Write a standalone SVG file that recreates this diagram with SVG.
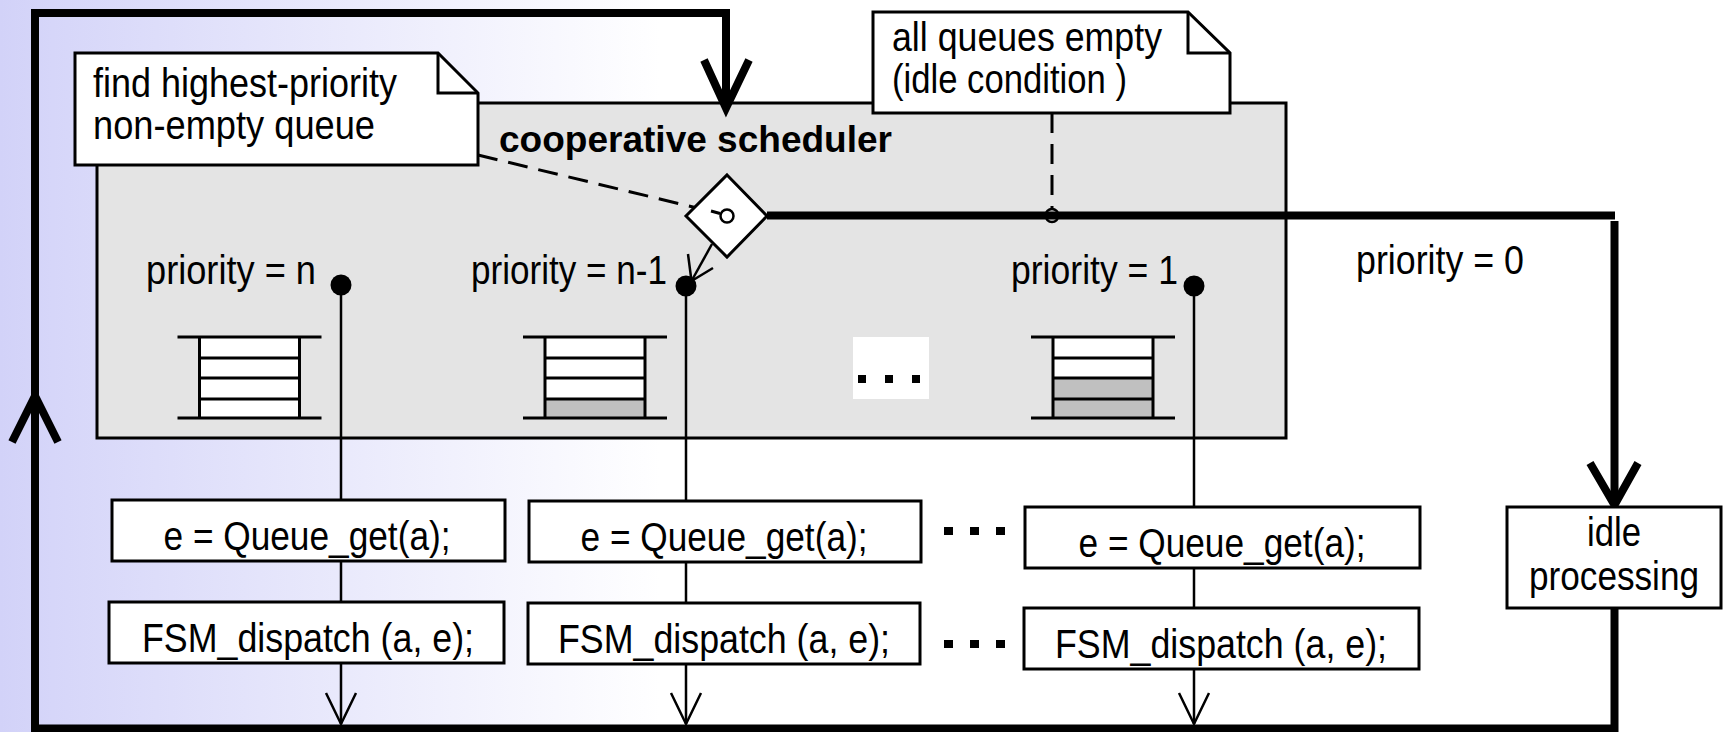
<svg xmlns="http://www.w3.org/2000/svg" width="1727" height="732" viewBox="0 0 1727 732">
  <defs>
    <linearGradient id="bg" gradientUnits="userSpaceOnUse" x1="0" y1="0" x2="660" y2="0">
      <stop offset="0" stop-color="#d2d2f8"/>
      <stop offset="0.08" stop-color="#d6d6f9"/>
      <stop offset="1" stop-color="#ffffff"/>
    </linearGradient>
    <!-- queue frame: rails, walls and slot dividers (centred on x = 0) -->
    <g id="qframe" fill="none" stroke="#000" stroke-width="3">
      <line x1="-72" y1="337" x2="72" y2="337"/>
      <line x1="-72" y1="418" x2="72" y2="418"/>
      <line x1="-50" y1="337" x2="-50" y2="418"/>
      <line x1="50" y1="337" x2="50" y2="418"/>
      <line x1="-50" y1="358" x2="50" y2="358"/>
      <line x1="-50" y1="378" x2="50" y2="378"/>
      <line x1="-50" y1="399" x2="50" y2="399"/>
    </g>
  </defs>
  <style>
    text { font-family: "Liberation Sans", Arial, Helvetica, sans-serif; font-size: 40px; fill: #000; }
    .title { font-weight: bold; font-size: 36px; }
    .mid { text-anchor: middle; }
    .box { fill: #fff; stroke: #000; stroke-width: 3; }
    .note { fill: #fff; stroke: #000; stroke-width: 3; stroke-linejoin: miter; }
    .fold { fill: none; stroke: #000; stroke-width: 3; }
    .thin { fill: none; stroke: #000; stroke-width: 2.5; }
    .thick { fill: none; stroke: #000; stroke-width: 8; }
    .dash { fill: none; stroke: #000; stroke-width: 3; stroke-dasharray: 20 11; }
    .slot { fill: #fff; }
    .full { fill: #c0c0c0; }
  </style>

  <!-- backdrop -->
  <rect x="0" y="0" width="1727" height="732" fill="url(#bg)"/>

  <!-- scheduler container -->
  <g id="scheduler">
    <rect x="97" y="103" width="1189" height="335" fill="#e4e4e4" stroke="#000" stroke-width="3"/>
    <text class="title" x="499" y="152" textLength="393" lengthAdjust="spacingAndGlyphs">cooperative scheduler</text>
  </g>

  <!-- connectors -->
  <g id="connectors">
    <!-- main loop back to the scheduler -->
    <polyline class="thick" stroke-width="7.5" points="1618,728.5 35,728.5 35,13 726,13 726,108"/>
    <polyline class="thick" stroke-width="7.5" points="12,442 35,396 58,442"/>
    <polyline class="thick" points="704,60 726,108 749,60"/>
    <!-- idle branch -->
    <line class="thick" stroke-width="9" x1="767" y1="215.5" x2="1615" y2="215.5"/>
    <line class="thick" stroke-width="9" x1="1614.5" y1="221" x2="1614.5" y2="505"/>
    <polyline class="thick" points="1590,463 1614.5,505 1638,463"/>
    <line class="thick" stroke-width="9" x1="1614.5" y1="608" x2="1614.5" y2="732"/>
    <!-- note anchors -->
    <line class="dash" x1="478" y1="155" x2="697" y2="208"/>
    <line class="dash" x1="1052" y1="113" x2="1052" y2="209"/>
    <circle cx="1052" cy="215.5" r="6.5" fill="none" stroke="#000" stroke-width="2.5"/>
    <!-- diamond to selected queue -->
    <line class="thin" x1="712" y1="244" x2="691.5" y2="281"/>
    <polyline class="thin" points="688,254 691.5,281 713,268"/>
    <!-- per-priority dispatch paths -->
    <line class="thin" x1="341" y1="285" x2="341" y2="724"/>
    <polyline class="thin" points="326,693 341,724 356,693"/>
    <line class="thin" x1="686" y1="286" x2="686" y2="724"/>
    <polyline class="thin" points="671,693 686,724 701,693"/>
    <line class="thin" x1="1194" y1="286" x2="1194" y2="724"/>
    <polyline class="thin" points="1179,693 1194,724 1209,693"/>
  </g>

  <!-- queue n -->
  <g id="queue-n">
    <text x="146" y="284" textLength="170" lengthAdjust="spacingAndGlyphs">priority = n</text>
    <circle cx="341" cy="285" r="10.5" fill="#000"/>
    <g transform="translate(249.5,0)">
      <rect class="slot" x="-50" y="337" width="100" height="81"/>
      <use href="#qframe"/>
    </g>
  </g>

  <!-- queue n-1 -->
  <g id="queue-n-1">
    <text x="471" y="284" textLength="196" lengthAdjust="spacingAndGlyphs">priority = n-1</text>
    <circle cx="686" cy="286" r="10.5" fill="#000"/>
    <g transform="translate(595,0)">
      <rect class="slot" x="-50" y="337" width="100" height="81"/>
      <rect class="full" x="-50" y="399" width="100" height="19"/>
      <use href="#qframe"/>
    </g>
  </g>

  <!-- elided queues -->
  <g id="queue-ellipsis">
    <rect x="853" y="337" width="76" height="62" fill="#fff"/>
    <rect x="858" y="375" width="8" height="8" fill="#000"/>
    <rect x="885" y="375" width="8" height="8" fill="#000"/>
    <rect x="912" y="375" width="8" height="8" fill="#000"/>
  </g>

  <!-- queue 1 -->
  <g id="queue-1">
    <text x="1011" y="284" textLength="167" lengthAdjust="spacingAndGlyphs">priority = 1</text>
    <circle cx="1194" cy="286" r="10.5" fill="#000"/>
    <g transform="translate(1103,0)">
      <rect class="slot" x="-50" y="337" width="100" height="81"/>
      <rect class="full" x="-50" y="378" width="100" height="40"/>
      <use href="#qframe"/>
    </g>
  </g>

  <!-- priority 0 label -->
  <g id="queue-0">
    <text x="1356" y="274" textLength="168" lengthAdjust="spacingAndGlyphs">priority = 0</text>
  </g>

  <!-- scheduling decision -->
  <g id="decision">
    <polygon points="727,175 767,216 727,257 686,216" fill="#fff" stroke="#000" stroke-width="3"/>
    <circle cx="727" cy="216" r="6.5" fill="#fff" stroke="#000" stroke-width="2.5"/>
    <line x1="711" y1="211" x2="720" y2="213.5" stroke="#000" stroke-width="3"/>
  </g>

  <!-- notes -->
  <g id="note-find">
    <path class="note" d="M75,53 H438 L478,93 V165 H75 Z"/>
    <path class="fold" d="M438,53 V93 H478"/>
    <text x="93" y="97" textLength="304" lengthAdjust="spacingAndGlyphs">find highest-priority</text>
    <text x="93" y="139" textLength="282" lengthAdjust="spacingAndGlyphs">non-empty queue</text>
  </g>
  <g id="note-idle">
    <path class="note" d="M873,12 H1188 L1230,53 V113 H873 Z"/>
    <path class="fold" d="M1188,12 V53 H1230"/>
    <text x="892" y="51" textLength="270" lengthAdjust="spacingAndGlyphs">all queues empty</text>
    <text x="892" y="93" textLength="235" lengthAdjust="spacingAndGlyphs">(idle condition )</text>
  </g>

  <!-- action boxes, priority n -->
  <g id="get-n">
    <rect class="box" x="112" y="500" width="393" height="61"/>
    <text class="mid" x="307" y="550" textLength="287" lengthAdjust="spacingAndGlyphs">e = Queue_get(a);</text>
  </g>
  <g id="dispatch-n">
    <rect class="box" x="109" y="602" width="395" height="61"/>
    <text class="mid" x="308" y="652" textLength="332" lengthAdjust="spacingAndGlyphs">FSM_dispatch (a, e);</text>
  </g>

  <!-- action boxes, priority n-1 -->
  <g id="get-n-1">
    <rect class="box" x="529" y="501" width="392" height="61"/>
    <text class="mid" x="724" y="551" textLength="287" lengthAdjust="spacingAndGlyphs">e = Queue_get(a);</text>
  </g>
  <g id="dispatch-n-1">
    <rect class="box" x="528" y="603" width="392" height="61"/>
    <text class="mid" x="724" y="653" textLength="332" lengthAdjust="spacingAndGlyphs">FSM_dispatch (a, e);</text>
  </g>

  <!-- elided action boxes -->
  <g id="action-ellipsis">
    <rect x="944" y="527" width="9" height="8" fill="#000"/>
    <rect x="970" y="527" width="9" height="8" fill="#000"/>
    <rect x="996" y="527" width="9" height="8" fill="#000"/>
    <rect x="944" y="640" width="9" height="8" fill="#000"/>
    <rect x="970" y="640" width="9" height="8" fill="#000"/>
    <rect x="996" y="640" width="9" height="8" fill="#000"/>
  </g>

  <!-- action boxes, priority 1 -->
  <g id="get-1">
    <rect class="box" x="1025" y="507" width="395" height="61"/>
    <text class="mid" x="1222" y="557" textLength="287" lengthAdjust="spacingAndGlyphs">e = Queue_get(a);</text>
  </g>
  <g id="dispatch-1">
    <rect class="box" x="1024" y="608" width="395" height="61"/>
    <text class="mid" x="1221" y="658" textLength="332" lengthAdjust="spacingAndGlyphs">FSM_dispatch (a, e);</text>
  </g>

  <!-- idle processing -->
  <g id="idle">
    <rect class="box" x="1507" y="507" width="214" height="101"/>
    <text class="mid" x="1614" y="546" textLength="54" lengthAdjust="spacingAndGlyphs">idle</text>
    <text class="mid" x="1614" y="590" textLength="170" lengthAdjust="spacingAndGlyphs">processing</text>
  </g>
</svg>
